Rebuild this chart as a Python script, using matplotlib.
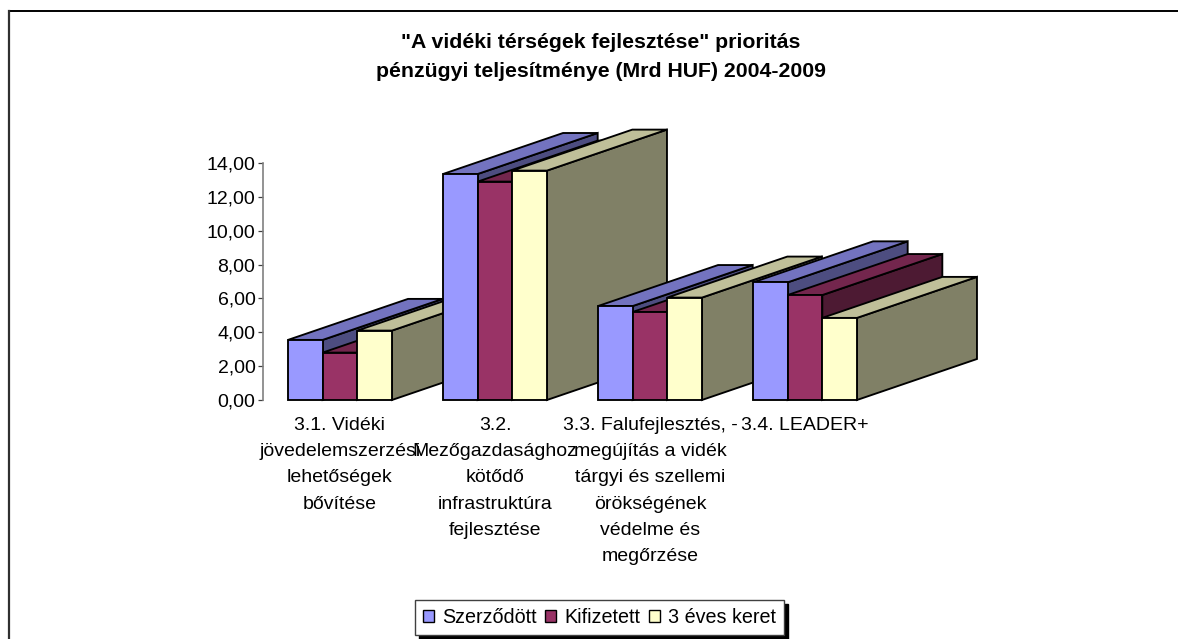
import matplotlib
matplotlib.use("Agg")
import matplotlib.pyplot as plt
from matplotlib.patches import Polygon, Patch
from matplotlib.lines import Line2D

plt.rcParams['font.family'] = ['Liberation Sans', 'DejaVu Sans']

categories = [
    "3.1. Vidéki\njövedelemszerzési\nlehetőségek\nbővítése",
    "3.2.\nMezőgazdasághoz\nkötődő\ninfrastruktúra\nfejlesztése",
    "3.3. Falufejlesztés, -\nmegújítás a vidék\ntárgyi és szellemi\nörökségének\nvédelme és\nmegőrzése",
    "3.4. LEADER+",
]
series_names = ["Szerződött", "Kifizetett", "3 éves keret"]
szerzodott = [3.55, 13.35, 5.55, 6.95]
kifizetett = [2.80, 12.90, 5.20, 6.20]
keret = [4.10, 13.55, 6.05, 4.85]
yticks = [0, 2, 4, 6, 8, 10, 12, 14]
title = '"A vidéki térségek fejlesztése" prioritás\npénzügyi teljesítménye (Mrd HUF) 2004-2009'

front = ["#9999FF", "#993366", "#FFFFCC"]
top = ["#7373BF", "#73264D", "#BFBF99"]
side = ["#4D4D80", "#4D1A33", "#808066"]

W, H = 1178, 639
fig = plt.figure(figsize=(W / 100, H / 100), dpi=100, facecolor="white")

# Outer frame: top and left edges only
fig.add_artist(Line2D([8.5 / W, 1.0], [1 - 10.5 / H, 1 - 10.5 / H], color="black", lw=1.4))
fig.add_artist(Line2D([8.5 / W, 8.5 / W], [0, 1 - 10.5 / H], color="#303030", lw=1.6))

x_left, x_right, y_top, y_bot = 262.5, 882.5, 163.0, 400.0
ax = fig.add_axes([x_left / W, 1 - y_bot / H, (x_right - x_left) / W, (y_bot - y_top) / H])
ax.set_xlim(0, 4)
ax.set_ylim(0, 14)
ax.patch.set_alpha(0)

bar_w = 0.2235
depth_x = 120 / 155
depth_y = 41 / ((y_bot - y_top) / 14)
lw = 1.35

for c in range(len(categories)):
    x0 = c + 0.5 - 1.5 * bar_w
    for s, vals in enumerate([szerzodott, kifizetett, keret]):
        v = vals[c]
        l, r = x0 + s * bar_w, x0 + (s + 1) * bar_w
        kw = dict(closed=True, edgecolor="black", linewidth=lw, clip_on=False,
                  joinstyle="miter", zorder=3 + c + s * 0.1)
        ax.add_patch(Polygon([(r, 0), (r + depth_x, depth_y), (r + depth_x, v + depth_y), (r, v)],
                             facecolor=side[s], **kw))
        ax.add_patch(Polygon([(l, v), (l + depth_x, v + depth_y), (r + depth_x, v + depth_y), (r, v)],
                             facecolor=top[s], **kw))
        ax.add_patch(Polygon([(l, 0), (r, 0), (r, v), (l, v)], facecolor=front[s], **kw))

for sp in ["top", "right", "bottom"]:
    ax.spines[sp].set_visible(False)
ax.spines["left"].set_color("#808080")
ax.spines["left"].set_linewidth(1.2)

ax.set_yticks(yticks)
ax.set_yticklabels([f"{t:.2f}".replace(".", ",") for t in yticks], fontsize=14, color="black")
ax.tick_params(axis="y", length=3.6, width=0.9, color="#404040", pad=1.5)
ax.set_xticks([i + 0.5 for i in range(len(categories))])
ax.set_xticklabels(categories, fontsize=14, linespacing=1.72, va="top", ha="center", color="black")
ax.tick_params(axis="x", length=0, pad=12)

fig.text(601 / W, 1 - 57 / H, title, ha="center", va="center", fontsize=15.3,
         fontweight="bold", linespacing=1.65, color="black")

handles = [Patch(facecolor=front[i], edgecolor="black", linewidth=1.0) for i in range(3)]
leg = fig.legend(handles, series_names, ncol=3, loc="center", bbox_to_anchor=(599.5 / W, 1 - 617.5 / H),
                 fontsize=14.2, frameon=True, fancybox=False, edgecolor="#404040", facecolor="white",
                 framealpha=1, handlelength=0.55, handleheight=0.55, handletextpad=0.42,
                 columnspacing=0.42, borderpad=0.42, borderaxespad=0,
                 shadow={"color": "black", "alpha": 1, "ox": 3, "oy": -3})
leg.get_frame().set_linewidth(1.0)

fig.savefig("out.png", dpi=100, facecolor="white")
